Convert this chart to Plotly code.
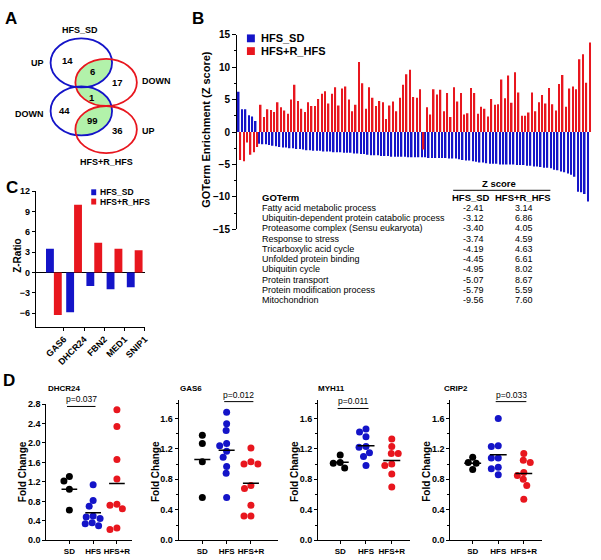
import numpy as np
import plotly.graph_objects as go

W, H = 601, 560
FONT = "Arial, Liberation Sans, sans-serif"
BLUE = "#1414c8"
RED = "#e8161e"
GREEN = "#b2f2aa"

# ---------------- data ----------------
# A: Venn counts
venn_sets = ["HFS_SD", "HFS+R_HFS"]
venn_counts = [14, 6, 17, 1, 44, 99, 36]
venn_dirs = ["UP", "DOWN", "DOWN", "UP"]

# B: GO term enrichment z scores (sorted by HFS_SD)
series_names = ["HFS_SD", "HFS+R_HFS"]
go_hfs_sd = [6.2, 3.5, 3.5, 2.6, 2.4, 1.7,
             -1.8, -1.9, -1.9, -2.0, -2.1, -2.2, -2.3,
             -2.4, -2.4, -2.5, -2.5, -2.6, -2.6, -2.7,
             -2.8, -2.8, -2.9, -2.9, -2.9, -3.0,
             -3.0, -3.0, -3.1, -3.1, -3.1, -3.2, -3.2, -3.2,
             -3.3, -3.3, -3.4, -3.4, -3.5,
             -3.6, -3.6, -3.6, -3.7, -3.7, -3.7,
             -3.8, -3.8, -3.8, -3.8, -3.8, -3.9, -3.9, -3.9,
             -3.9, -3.9, -3.9, -4.0, -4.0, -4.0, -4.0,
             -4.0, -4.0, -4.1, -4.1, -4.1, -4.2, -4.3, -4.4, -4.4,
             -4.5, -4.6, -4.7, -4.7, -4.8,
             -4.9, -4.9, -4.9, -5.0, -5.0,
             -5.0, -5.0, -5.0, -5.1, -5.1, -5.1, -5.2,
             -5.2, -5.3, -5.3, -5.4, -5.5, -5.5,
             -5.6, -5.8, -5.9, -6.1,
             -6.2, -6.4, -6.6, -6.9,
             -9.2, -9.3, -9.56, -10.7]
go_hfsr = [-4.3, -4.5, -1.6, -3.5, -3.1, -2.3,
           4.2, 2.3, 3.5, 3.4, 3.1, 4.6, 3.8, 3.3, 2.8, 5.0,
           7.3, 4.8, 3.6, 3.1, 4.6, 4.0, 4.0, 5.1, 5.9, 6.3,
           4.4, 5.9, 6.9, 4.1, 6.7, 7.0, 5.0, 3.2, 4.2, 10.8,
           7.5, 3.6, 6.9, 5.3, 4.0, 4.8, 4.6, 2.0, 4.1, 4.7,
           3.2, 5.3, 7.3, 8.9, 9.6, 5.4, 5.3, 6.6,
           -2.7,
           3.8, 2.7, 6.6, 5.8, 6.5, 3.2, 6.0, 2.3, 6.9, 4.7,
           6.0, 2.7, 2.9, 6.8, 6.0, 2.8, 3.9, 3.6, 2.4, 5.1,
           4.2, 4.3, 8.1, 5.2, 8.7, 4.5, 9.2, 6.1, 2.5, 2.5,
           3.0, 6.1, 3.2, 4.6, 5.7, 4.4, 6.8, 4.3, 3.3, 7.4,
           8.8, 3.9, 6.7, 7.0, 6.6,
           11.2, 12.0, 7.6, 13.8]

table_terms = ["Fatty acid metabolic process",
               "Ubiquitin-dependent protein catabolic process",
               "Proteasome complex (Sensu eukaryota)",
               "Response to stress",
               "Tricarboxylic acid cycle",
               "Unfolded protein binding",
               "Ubiquitin cycle",
               "Protein transport",
               "Protein modification process",
               "Mitochondrion"]
table_hfs_sd = [-2.41, -3.12, -3.40, -3.74, -4.19, -4.45, -4.95, -5.07, -5.79, -9.56]
table_hfsr = [3.14, 6.86, 4.05, 4.59, 4.63, 6.61, 8.02, 8.67, 5.59, 7.60]

# C: Z-ratio per gene
c_genes = ["GAS6", "DHCR24", "FBN2", "MED1", "SNIP1"]
c_hfs_sd = [3.5, -5.9, -2.0, -2.5, -2.2]
c_hfsr = [-6.3, 10.0, 4.4, 3.5, 3.3]

# D: qPCR fold change
groups = ["SD", "HFS", "HFS+R"]
d_genes = ["DHCR24", "GAS6", "MYH11", "CRIP2"]
dhcr24_sd = [1.31, 1.22, 1.05, 0.62]
dhcr24_hfs = [1.14, 0.82, 0.70, 0.50, 0.48, 0.45, 0.36, 0.34, 0.30]
dhcr24_hfsr = [2.68, 2.34, 1.66, 1.26, 0.74, 0.72, 0.65, 0.25, 0.22]
gas6_sd = [1.38, 1.27, 1.03, 0.56]
gas6_hfs = [1.68, 1.53, 1.44, 1.27, 1.24, 1.17, 1.09, 0.97, 0.88, 0.56]
gas6_hfsr = [1.21, 1.03, 1.00, 1.00, 0.72, 0.68, 0.46, 0.32, 0.32]
myh11_sd = [1.12, 1.02, 1.01, 0.95]
myh11_hfs = [1.46, 1.42, 1.36, 1.23, 1.22, 1.15, 1.10, 0.98]
myh11_hfsr = [1.33, 1.23, 1.14, 1.14, 1.00, 0.98, 0.87, 0.70]
crip2_sd = [1.09, 1.02, 1.01, 0.93]
crip2_hfs = [1.60, 1.24, 1.23, 1.08, 1.08, 0.96, 0.94, 0.86]
crip2_hfsr = [1.14, 1.05, 1.02, 0.89, 0.85, 0.80, 0.72, 0.54]
d_pvals = ["p=0.037", "p=0.012", "p=0.011", "p=0.033"]
d_pairs = [(0, 1), (1, 2), (0, 1), (1, 2)]


# ---------------- helpers ----------------
def dx(x0, x1):
    return [x0 / W, x1 / W]


def dy(y0, y1):
    return [1 - y1 / H, 1 - y0 / H]


def b(s):
    return "<b>" + s + "</b>"


def txt(x, y, s, size=9, xanchor="center", yanchor="middle", angle=0):
    return dict(x=x / W, y=1 - y / H, xref="paper", yref="paper", text=s,
                showarrow=False, font=dict(family=FONT, size=size, color="black"),
                xanchor=xanchor, yanchor=yanchor, textangle=angle, borderpad=0)


def ellipse_pts(cx, cy, rx, ry, n=240):
    t = np.linspace(0, 2 * np.pi, n, endpoint=False)
    return cx + rx * np.cos(t), cy + ry * np.sin(t)


def lens(e1, e2):
    # intersection polygon of two ellipses (both convex)
    pts = []
    for a, bb in ((e1, e2), (e2, e1)):
        x, y = ellipse_pts(*a)
        inside = ((x - bb[0]) / bb[2]) ** 2 + ((y - bb[1]) / bb[3]) ** 2 <= 1
        pts += list(zip(x[inside], y[inside]))
    pts = np.array(pts)
    c = pts.mean(axis=0)
    order = np.argsort(np.arctan2(pts[:, 1] - c[1], pts[:, 0] - c[0]))
    pts = pts[order]
    return list(pts[:, 0]) + [pts[0, 0]], list(pts[:, 1]) + [pts[0, 1]]


def swarm(vals, ppy, ppx, d=7.0):
    vals = np.asarray(vals, dtype=float)
    offs = np.zeros(len(vals))
    placed = []
    cands = sorted(np.arange(-20, 20.25, 0.5), key=lambda v: (abs(v), v))
    for i in np.argsort(-vals, kind="stable"):
        y = vals[i] * ppy
        for c in cands:
            if all((c - px) ** 2 + (y - py) ** 2 >= d * d for px, py in placed):
                break
        placed.append((c, y))
        offs[i] = c / ppx
    return offs


fig = go.Figure()
shapes = []
ann = []

# ---------------- A: Venn ----------------
e_sd_up = (82, 58, 31, 25)
e_r_down = (107, 78, 31, 24)
e_sd_down = (82, 107, 31, 25)
e_r_up = (107, 126, 31, 24)
for e1, e2 in ((e_sd_up, e_r_down), (e_r_down, e_sd_down), (e_sd_down, e_r_up)):
    lx, ly = lens(e1, e2)
    fig.add_trace(go.Scatter(x=lx, y=ly, fill="toself", fillcolor=GREEN, mode="lines",
                             line=dict(width=0), xaxis="x", yaxis="y", hoverinfo="skip"))
for e, col in ((e_sd_up, BLUE), (e_r_down, RED), (e_sd_down, BLUE), (e_r_up, RED)):
    shapes.append(dict(type="circle", xref="x", yref="y", x0=e[0] - e[2], x1=e[0] + e[2],
                       y0=e[1] - e[3], y1=e[1] + e[3], line=dict(color=col, width=1.8)))
venn_pos = [(68, 56), (93, 67), (118, 78), (93, 93), (65, 107), (93, 117), (118, 127)]
for (x, y), n in zip(venn_pos, venn_counts):
    ann.append(txt(x, y, b(str(n)), 9.5))
ann.append(txt(81, 24, b(venn_sets[0]), 9))
ann.append(txt(107, 159, b(venn_sets[1]), 9))
for (x, y), s in zip([(38, 58), (158, 76), (30, 110), (150, 128)], venn_dirs):
    ann.append(txt(x, y, b(s), 9))

# ---------------- B: GO term bars ----------------
idx = list(range(len(go_hfs_sd)))
fig.add_trace(go.Bar(x=idx, y=go_hfs_sd, width=0.44, offset=-0.46, marker=dict(color=BLUE, line_width=0),
                     xaxis="x2", yaxis="y2", name=series_names[0]))
fig.add_trace(go.Bar(x=idx, y=go_hfsr, width=0.44, offset=0.02, marker=dict(color=RED, line_width=0),
                     xaxis="x2", yaxis="y2", name=series_names[1]))
ann.append(txt(207, 126, b("GOTerm Enrichment (Z score)"), 11, angle=-90))
# legend B
for k, (nm, col) in enumerate(zip(series_names, [BLUE, RED])):
    y = 33 + k * 13
    shapes.append(dict(type="rect", xref="paper", yref="paper", x0=249 / W, x1=257 / W,
                       y0=1 - (y + 4) / H, y1=1 - (y - 4) / H, fillcolor=col, line_width=0))
    ann.append(txt(262, y, b(nm), 11, xanchor="left"))
# table
ann.append(txt(503, 181, b("Z score"), 9.5))
shapes.append(dict(type="line", xref="paper", yref="paper", x0=457 / W, x1=555 / W,
                   y0=1 - 188 / H, y1=1 - 188 / H, line=dict(color="black", width=1)))
ann.append(txt(263, 195, b("GOTerm"), 9.5, xanchor="left"))
ann.append(txt(475, 195, b(series_names[0]), 9.5))
ann.append(txt(527, 195, b(series_names[1]), 9.5))
for k, (t, a, c) in enumerate(zip(table_terms, table_hfs_sd, table_hfsr)):
    y = 206 + k * 10.45
    ann.append(txt(263, y, t, 9, xanchor="left"))
    ann.append(txt(477, y, f"{a:.2f}", 9))
    ann.append(txt(528, y, f"{c:.2f}", 9))

# ---------------- C: Z-ratio bars ----------------
ci = list(range(len(c_genes)))
fig.add_trace(go.Bar(x=ci, y=c_hfs_sd, width=0.39, offset=-0.39, marker=dict(color=BLUE, line_width=0),
                     xaxis="x3", yaxis="y3"))
fig.add_trace(go.Bar(x=ci, y=c_hfsr, width=0.39, offset=0.0, marker=dict(color=RED, line_width=0),
                     xaxis="x3", yaxis="y3"))
ann.append(txt(18, 255, b("Z-Ratio"), 10, angle=-90))
for k, (nm, col) in enumerate(zip(series_names, [BLUE, RED])):
    y = 190 + k * 9.5
    shapes.append(dict(type="rect", xref="paper", yref="paper", x0=92 / W, x1=97 / W,
                       y0=1 - (y + 3) / H, y1=1 - (y - 3) / H, fillcolor=col, line_width=0))
    ann.append(txt(100, y, b(nm), 8.5, xanchor="left"))

# ---------------- D: dot plots ----------------
d_data = [(dhcr24_sd, dhcr24_hfs, dhcr24_hfsr), (gas6_sd, gas6_hfs, gas6_hfsr),
          (myh11_sd, myh11_hfs, myh11_hfsr), (crip2_sd, crip2_hfs, crip2_hfsr)]
d_xdom = [(46.7, 133), (180, 280), (320.7, 413), (454, 547)]
d_xrng = [(-0.97, 2.63), (-0.98, 3.1), (-0.86, 2.69), (-0.88, 2.73)]
d_ydom = [(406, 545), (402, 545), (402, 545), (402, 545)]
d_yrng = [(0, 2.8), (0, 1.84), (0, 1.84), (0, 1.84)]
d_bracket = [2.75, 1.82, 1.73, 1.82]
d_title_x = [47, 181, 320, 447]
d_ylab_x = [22.7, 156.7, 296.7, 430.7]
dot_cols = ["black", BLUE, RED]

for p in range(4):
    xa, ya = f"x{p + 4}", f"y{p + 4}"
    ppx = (d_xdom[p][1] - d_xdom[p][0]) / (d_xrng[p][1] - d_xrng[p][0])
    ppy = (d_ydom[p][1] - d_ydom[p][0]) / (d_yrng[p][1] - d_yrng[p][0])
    for g, vals in enumerate(d_data[p]):
        offs = swarm(vals, ppy, ppx)
        fig.add_trace(go.Scatter(x=g + offs, y=vals, mode="markers", xaxis=xa, yaxis=ya,
                                 marker=dict(size=7, color=dot_cols[g], line_width=0)))
        m = float(np.mean(vals))
        fig.add_trace(go.Scatter(x=[g - 0.33, g + 0.33], y=[m, m], mode="lines", xaxis=xa, yaxis=ya,
                                 line=dict(color="black", width=1.5)))
    g0, g1 = d_pairs[p]
    shapes.append(dict(type="line", xref=xa, yref=ya, x0=g0 - 0.1, x1=g1 + 0.1,
                       y0=d_bracket[p], y1=d_bracket[p], line=dict(color="black", width=1)))
    ann.append(dict(x=(g0 + g1) / 2, y=d_bracket[p], xref=xa, yref=ya, text=d_pvals[p],
                    showarrow=False, yanchor="bottom", yshift=0,
                    font=dict(family=FONT, size=8.5, color="black")))
    ann.append(txt(d_title_x[p], 390, b(d_genes[p]), 8, xanchor="left"))
    ann.append(txt(d_ylab_x[p], 475, b("Fold Change"), 10, angle=-90))

# panel letters
for s, x, y in (("A", 11, 13), ("B", 200, 13), ("C", 12, 185), ("D", 9, 382)):
    ann.append(txt(x, y, b(s), 17))

# ---------------- layout ----------------
tickf = dict(family=FONT, size=9, color="black", weight="bold")
ax_common = dict(showline=True, linecolor="black", linewidth=1, ticks="outside", ticklen=3,
                 tickcolor="black", showgrid=False, zeroline=False, tickfont=tickf)

layout = dict(
    width=W, height=H, margin=dict(l=0, r=0, t=0, b=0),
    paper_bgcolor="white", plot_bgcolor="rgba(0,0,0,0)", showlegend=False,
    font=dict(family=FONT, color="black"),
    xaxis=dict(domain=dx(0, 200), range=[0, 200], visible=False),
    yaxis=dict(domain=dy(0, 190), range=[190, 0], visible=False),
    xaxis2=dict(domain=dx(239, 598), range=[-0.75, 104.2], visible=False, anchor="y2"),
    yaxis2=dict(ax_common, domain=dy(29.3, 227.8), range=[-15, 15], tickvals=list(range(-15, 16, 5)),
                ticklen=4, anchor="x2", tickfont=dict(tickf, size=10),
                minor=dict(ticks="outside", ticklen=2, tickcolor="black", dtick=2.5, tick0=0)),
    xaxis3=dict(ax_common, domain=dx(36, 146), range=[-0.9, 4.5],
                tickvals=[i + 0.5 for i in ci], ticktext=c_genes, tickangle=-45, anchor="y3"),
    yaxis3=dict(ax_common, domain=dy(189, 327), range=[-8, 12], dtick=3, tick0=0,
                zeroline=True, zerolinecolor="black", zerolinewidth=1, anchor="x3"),
    shapes=shapes, annotations=ann,
)
for p in range(4):
    n = p + 4
    layout[f"xaxis{n}"] = dict(ax_common, domain=dx(*d_xdom[p]), range=list(d_xrng[p]),
                               tickvals=[0, 1, 2], ticktext=groups, tickangle=0,
                               tickfont=dict(tickf, size=8), anchor=f"y{n}")
    yd = dict(ax_common, domain=dy(*d_ydom[p]), range=list(d_yrng[p]), dtick=0.4, tick0=0,
              tickformat=".1f", anchor=f"x{n}")
    if p > 0:
        yd["minor"] = dict(ticks="outside", ticklen=2, tickcolor="black", dtick=0.2, tick0=0)
    layout[f"yaxis{n}"] = yd

fig.update_layout(**layout)
# the page body has a default 8px margin; remove it so figure pixels match the window
fig.write_html("out.html", config={"displayModeBar": False},
               post_script="document.body.style.margin='0';document.body.style.overflow='hidden';")
